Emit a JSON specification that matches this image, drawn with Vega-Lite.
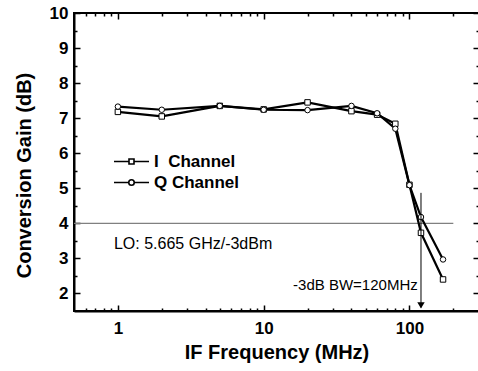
{
  "$schema": "https://vega.github.io/schema/vega-lite/v6.json",
  "width": 405,
  "height": 298,
  "autosize": {"type": "none"},
  "padding": {"left": 74, "top": 13, "right": 0, "bottom": 60},
  "background": "white",
  "config": {
    "view": {"stroke": "black", "strokeWidth": 2},
    "font": "Liberation Sans",
    "axis": {
      "domainColor": "black",
      "domainWidth": 2,
      "tickColor": "black",
      "tickOpacity": 0,
      "tickWidth": 1.5,
      "labelFont": "Liberation Sans",
      "labelFontWeight": "bold",
      "labelColor": "black",
      "labelFontSize": 17,
      "titleFont": "Liberation Sans",
      "titleFontWeight": "bold",
      "titleColor": "black",
      "titleFontSize": 20,
      "grid": true,
      "gridColor": "black",
      "gridOpacity": 1,
      "gridWidth": 1.5
    }
  },
  "datasets": {
    "gain": [
      {"f": 1, "g": 7.18, "ch": "I Channel"},
      {"f": 2, "g": 7.05, "ch": "I Channel"},
      {"f": 5, "g": 7.35, "ch": "I Channel"},
      {"f": 10, "g": 7.25, "ch": "I Channel"},
      {"f": 20, "g": 7.45, "ch": "I Channel"},
      {"f": 40, "g": 7.2, "ch": "I Channel"},
      {"f": 60, "g": 7.1, "ch": "I Channel"},
      {"f": 80, "g": 6.84, "ch": "I Channel"},
      {"f": 100, "g": 5.1, "ch": "I Channel"},
      {"f": 120, "g": 3.73, "ch": "I Channel"},
      {"f": 170, "g": 2.4, "ch": "I Channel"},
      {"f": 1, "g": 7.33, "ch": "Q Channel"},
      {"f": 2, "g": 7.24, "ch": "Q Channel"},
      {"f": 5, "g": 7.35, "ch": "Q Channel"},
      {"f": 10, "g": 7.24, "ch": "Q Channel"},
      {"f": 20, "g": 7.23, "ch": "Q Channel"},
      {"f": 40, "g": 7.35, "ch": "Q Channel"},
      {"f": 60, "g": 7.14, "ch": "Q Channel"},
      {"f": 80, "g": 6.7, "ch": "Q Channel"},
      {"f": 100, "g": 5.09, "ch": "Q Channel"},
      {"f": 120, "g": 4.18, "ch": "Q Channel"},
      {"f": 170, "g": 2.97, "ch": "Q Channel"}
    ],
    "arrow": [{"f": 120, "g": 4.87, "g2": 1.6}],
    "head": [{"f": 120, "g": 1.66}],
    "ref": [{"f": 0.5, "f2": 200, "g": 4}],
    "lo": [{"f": 0.94, "g": 3.42, "t": "LO: 5.665 GHz/-3dBm"}],
    "bw": [{"f": 114, "g": 2.24, "t": "-3dB BW=120MHz"}]
  },
  "encoding": {
    "x": {
      "field": "f", "type": "quantitative",
      "scale": {"type": "log", "domain": [0.5, 300], "nice": false},
      "axis": {
        "orient": "bottom",
        "title": "IF Frequency (MHz)",
        "values": [0.6, 0.7, 0.8, 0.9, 1, 2, 3, 4, 5, 6, 7, 8, 9, 10, 20, 30, 40, 50, 60, 70, 80, 90, 100, 200],
        "labelExpr": "datum.value==1 ? '1' : datum.value==10 ? '10' : datum.value==100 ? '100' : ''",
        "tickSize": -6,
        "gridDash": {"condition": {"test": "datum.value==1||datum.value==10||datum.value==100", "value": [6, 286, 6, 1000]}, "value": [3, 292, 3, 1000]},
        "labelPadding": 15,
        "titlePadding": 6,
        "labelFlush": false,
        "labelOverlap": false
      }
    },
    "y": {
      "field": "g", "type": "quantitative",
      "scale": {"domain": [1.5, 10], "nice": false, "zero": false},
      "axis": {
        "orient": "left",
        "title": "Conversion Gain (dB)",
        "values": [2, 2.5, 3, 3.5, 4, 4.5, 5, 5.5, 6, 6.5, 7, 7.5, 8, 8.5, 9, 9.5, 10],
        "labelExpr": "datum.value % 1 == 0 ? format(datum.value, 'd') : ''",
        "tickSize": -6,
        "gridDash": {"condition": {"test": "datum.value % 1 == 0", "value": [6, 393, 6, 1000]}, "value": [3, 399, 3, 1000]},
        "labelPadding": 12,
        "titlePadding": 15,
        "titleY": 162,
        "labelFlush": false,
        "labelOverlap": false
      }
    }
  },
  "layer": [
    {
      "data": {"name": "ref"},
      "mark": {"type": "rule", "color": "#808080", "strokeWidth": 1.2},
      "encoding": {"x2": {"field": "f2"}}
    },
    {
      "data": {"name": "gain"},
      "mark": {"type": "line", "color": "black", "strokeWidth": 2.2},
      "encoding": {"detail": {"field": "ch"}}
    },
    {
      "data": {"name": "gain"},
      "mark": {"type": "point", "filled": true, "fill": "white", "stroke": "black", "strokeWidth": 1, "size": 30, "opacity": 1},
      "encoding": {
        "shape": {
          "field": "ch", "type": "nominal",
          "scale": {"domain": ["I Channel", "Q Channel"], "range": ["square", "circle"]},
          "legend": null
        }
      }
    },
    {
      "data": {"name": "gain"},
      "mark": {"type": "point", "filled": true, "fill": "white", "stroke": "black", "strokeWidth": 1.6, "size": 100, "opacity": 0},
      "encoding": {
        "shape": {
          "field": "ch", "type": "nominal",
          "scale": {
            "domain": ["I Channel", "Q Channel"],
            "range": [
              "M-3.5,0H-0.5M0.5,0H3.5M-0.5,-0.5H0.5V0.5H-0.5Z",
              "M-3.5,0H-0.55M0.55,0H3.5M-0.55,0A0.55,0.55 0 1,0 0.55,0A0.55,0.55 0 1,0 -0.55,0Z"
            ]
          },
          "legend": {
            "title": null,
            "orient": "none",
            "legendX": 49,
            "legendY": 140,
            "padding": 0,
            "rowPadding": 3,
            "symbolSize": 100,
            "symbolOpacity": 1,
            "symbolStrokeWidth": 1.6,
            "labelOffset": 14,
            "labelFont": "Liberation Sans",
            "labelFontWeight": "bold",
            "labelFontSize": 17,
            "labelColor": "black",
            "labelExpr": "datum.value == 'I Channel' ? 'I\u00a0\u00a0Channel' : datum.label"
          }
        }
      }
    },
    {
      "data": {"name": "arrow"},
      "mark": {"type": "rule", "color": "black", "strokeWidth": 1},
      "encoding": {"y2": {"field": "g2"}}
    },
    {
      "data": {"name": "head"},
      "mark": {"type": "point", "shape": "triangle-down", "filled": true, "color": "black", "size": 55, "opacity": 1}
    },
    {
      "data": {"name": "lo"},
      "mark": {"type": "text", "font": "Liberation Sans", "color": "black", "baseline": "middle", "align": "left", "fontSize": 16},
      "encoding": {"text": {"field": "t"}}
    },
    {
      "data": {"name": "bw"},
      "mark": {"type": "text", "font": "Liberation Sans", "color": "black", "baseline": "middle", "align": "right", "fontSize": 15},
      "encoding": {"text": {"field": "t"}}
    }
  ],
  "resolve": {"scale": {"shape": "independent"}}
}
